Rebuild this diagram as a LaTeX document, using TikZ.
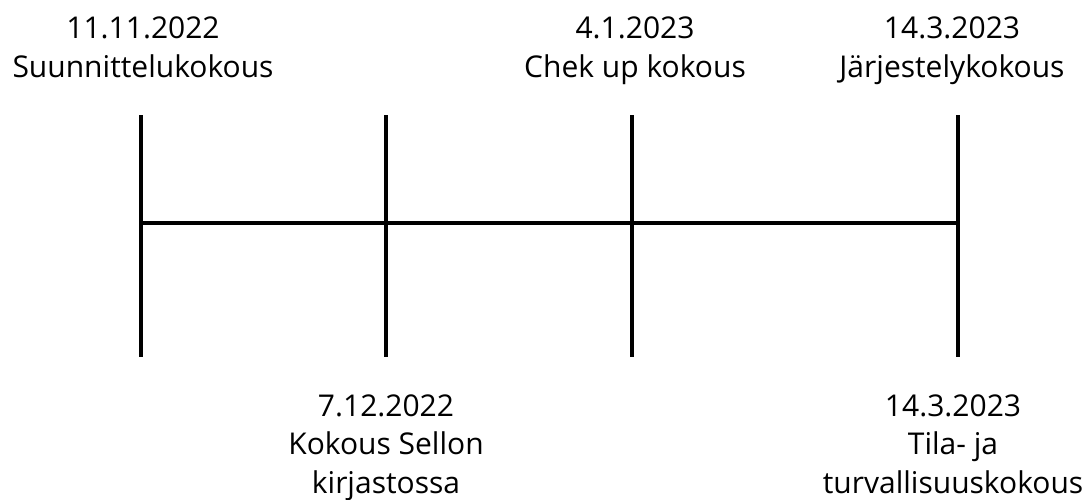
\documentclass[tikz,border=0pt]{standalone}
\usepackage{fontspec}
\setmainfont{Open Sans}
\begin{document}
\begin{tikzpicture}[x=1pt,y=-1pt,
  tick/.style={line width=4.5pt},
  lbl/.style={align=center,anchor=base,inner sep=0pt,font=\fontsize{30}{38.5}\selectfont}]
\useasboundingbox (0,0) rectangle (1092,499);
\coordinate (t1) at (141,115); \coordinate (b1) at (141,357);
\coordinate (t2) at (386,115); \coordinate (b2) at (386,357);
\coordinate (t3) at (632,115); \coordinate (b3) at (632,357);
\coordinate (t4) at (958,115); \coordinate (b4) at (958,357);
\coordinate (m1) at (141,223); \coordinate (m4) at (958,223);
\draw[tick] (t1) -- (b1);
\draw[tick] (t2) -- (b2);
\draw[tick] (t3) -- (b3);
\draw[tick] (t4) -- (b4);
\draw[tick] (m1) -- (m4);
\node[lbl] (l1) at (143,77) {11.11.2022\\Suunnittelukokous};
\node[lbl] (l3) at (635,77) {4.1.2023\\Chek up kokous};
\node[lbl] (l4) at (952,77) {14.3.2023\\Järjestelykokous};
\node[lbl] (l2) at (386,493) {7.12.2022\\Kokous Sellon\\kirjastossa};
\node[lbl] (l5) at (953,493) {14.3.2023\\Tila- ja\\turvallisuuskokous};
\end{tikzpicture}
\end{document}
